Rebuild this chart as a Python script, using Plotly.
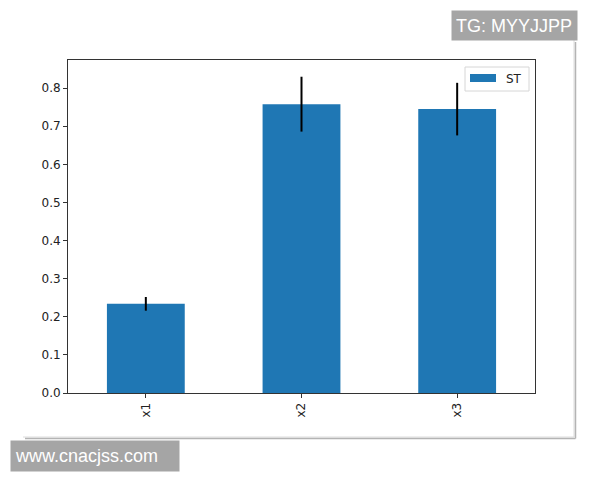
import plotly.graph_objects as go

categories = ["x1", "x2", "x3"]
values = [0.234, 0.758, 0.745]
errors = [0.018, 0.072, 0.069]
series_name = "ST"
y_ticks = [0.0, 0.1, 0.2, 0.3, 0.4, 0.5, 0.6, 0.7, 0.8]

# plot area in pixels
L, R, T, B = 68, 535, 60, 393
W, H = 600, 480

def px(x):
    return (x - L) / (R - L)

def py(y):
    return (B - y) / (B - T)

fig = go.Figure()
fig.add_trace(go.Bar(
    x=[0, 1, 2], y=values, name=series_name, width=0.5,
    marker=dict(color="#1f77b4", line=dict(width=0)),
    error_y=dict(type="data", array=errors, visible=True, color="black",
                 thickness=2, width=0),
    showlegend=False,
))

def line(x0, y0, x1, y1, color, width):
    return dict(type="line", xref="paper", yref="paper",
                x0=px(x0), x1=px(x1), y0=py(y0), y1=py(y1),
                line=dict(color=color, width=width), layer="above")

shapes = [
    # shadowed frame around the figure
    line(574, 40, 574, 437, "#dcdcdc", 1),
    line(575.5, 42, 575.5, 438.5, "#b4b4b4", 1.5),
    line(23, 437, 574, 437, "#dcdcdc", 1),
    line(25, 438.5, 575.5, 438.5, "#b4b4b4", 1.5),
    # legend box
    dict(type="rect", xref="paper", yref="paper",
         x0=px(465), x1=px(529), y0=py(91), y1=py(67),
         line=dict(color="#d6d6d6", width=1), fillcolor="rgba(255,255,255,0.85)", layer="above"),
    dict(type="rect", xref="paper", yref="paper",
         x0=px(470), x1=px(496), y0=py(82), y1=py(74),
         line=dict(width=0), fillcolor="#1f77b4", layer="above"),
]

annotations = [
    dict(text=series_name, xref="paper", yref="paper", x=px(504), y=py(78.5),
         xanchor="left", yanchor="middle", showarrow=False,
         font=dict(family="DejaVu Sans", size=12, color="#222")),
    dict(text="TG: MYYJJPP", xref="paper", yref="paper", x=px(451), y=py(10),
         xanchor="left", yanchor="top", showarrow=False,
         font=dict(family="Liberation Sans, Arial", size=18, color="white"),
         bgcolor="#a5a5a5", borderpad=4, width=117, height=21, align="left"),
    dict(text="www.cnacjss.com", xref="paper", yref="paper", x=px(10), y=py(440),
         xanchor="left", yanchor="top", showarrow=False,
         font=dict(family="Liberation Sans, Arial", size=18, color="white"),
         bgcolor="#a5a5a5", borderpad=4, width=160, height=22, align="left"),
]

fig.update_layout(
    width=W, height=H,
    margin=dict(l=L, r=W - R, t=T, b=H - B, pad=0),
    paper_bgcolor="white", plot_bgcolor="white",
    font=dict(family="DejaVu Sans", size=12, color="#222"),
    showlegend=False,
    shapes=shapes,
    annotations=annotations,
    xaxis=dict(range=[-0.5, 2.5], tickmode="array", tickvals=[0, 1, 2], ticktext=categories,
               tickangle=-90, ticks="outside", ticklen=4, tickcolor="#333",
               showline=True, linecolor="#333", linewidth=1, mirror=True,
               showgrid=False, zeroline=False),
    yaxis=dict(range=[0, 0.8739], tickmode="array", tickvals=y_ticks,
               ticktext=[f"{v:.1f}" for v in y_ticks],
               ticks="outside", ticklen=4, tickcolor="#333",
               showline=True, linecolor="#333", linewidth=1, mirror=True,
               showgrid=False, zeroline=False),
)

fig.write_html("out.html", config={"displayModeBar": False},
               post_script="document.body.style.margin='0px';document.body.style.overflow='hidden';")
